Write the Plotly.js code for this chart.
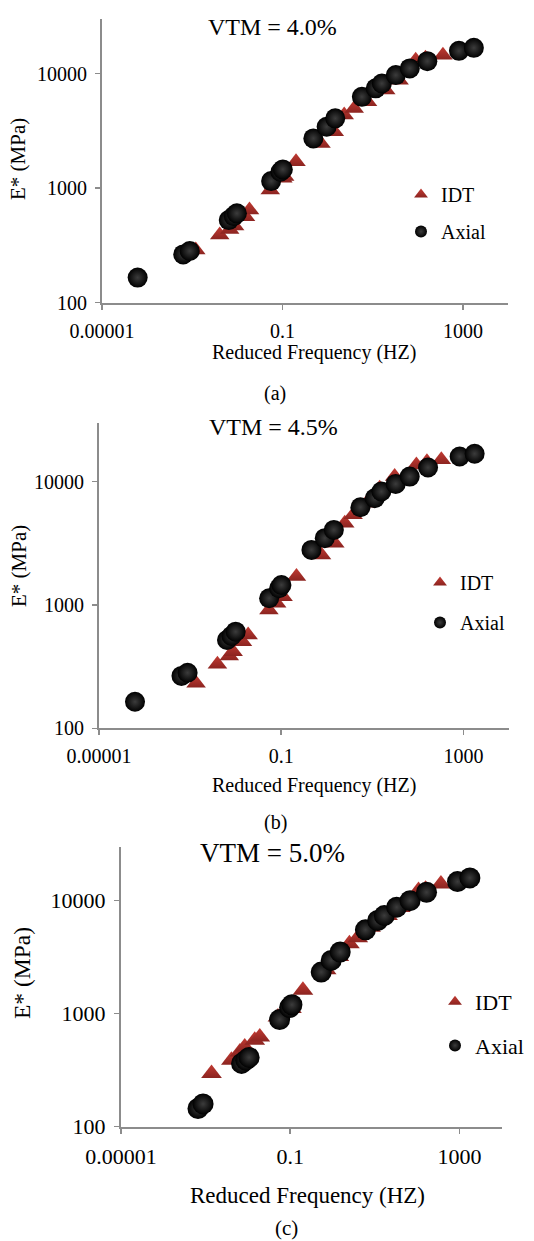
<!DOCTYPE html>
<html><head><meta charset="utf-8">
<script src="https://cdn.plot.ly/plotly-3.0.1.min.js"></script>
<style>html,body{margin:0;padding:0;background:#fff}</style>
</head><body><div id="chart" style="width:534px;height:1241px"></div>
<script>
const FONT = '"Liberation Serif", "Times New Roman", Times, serif';
const panelTitles = ['VTM = 4.0%', 'VTM = 4.5%', 'VTM = 5.0%'];
const captions = ['(a)', '(b)', '(c)'];
const xAxisTitle = 'Reduced Frequency (HZ)';
const yAxisTitle = 'E* (MPa)';
const seriesNames = ['IDT', 'Axial'];
const xTickVals = [0.00001, 0.1, 1000];
const xTickText = ['0.00001', '0.1', '1000'];
const yTickVals = [100, 1000, 10000];
const yTickText = ['100', '1000', '10000'];

// Panel (a) VTM = 4.0%
const idtA_freq = [1.20e-3, 4.07e-3, 6.76e-3, 8.71e-3, 0.0152, 0.0186, 0.0537, 0.102, 0.112, 0.200, 0.716, 1.41, 2.34, 3.90, 7.69, 19.5, 38.5, 89.9, 148, 361];
const idtA_mod  = [287, 388, 435, 466, 561, 643, 962, 1217, 1260, 1700, 2455, 3100, 4345, 4965, 5680, 7180, 8770, 13100, 13600, 14500];
const axialA_freq = [6.17e-5, 6.31e-4, 8.81e-4, 6.46e-3, 8.32e-3, 9.77e-3, 0.0562, 0.0904, 0.102, 0.484, 0.953, 1.48, 5.77, 11.7, 16.0, 32.6, 66.4, 163, 817, 1750];
const axialA_mod  = [165, 263, 282, 525, 569, 601, 1150, 1387, 1455, 2716, 3430, 4065, 6270, 7430, 8200, 9700, 11100, 12850, 15800, 16800];

// Panel (b) VTM = 4.5%
const idtB_freq = [1.35e-3, 3.98e-3, 7.24e-3, 8.81e-3, 0.0141, 0.0188, 0.0537, 0.0794, 0.110, 0.216, 0.766, 1.50, 2.48, 3.78, 7.41, 14.5, 30.9, 92.7, 158, 327];
const idtB_mod  = [232, 330, 385, 418, 504, 571, 910, 1033, 1166, 1700, 2540, 3163, 4600, 5370, 6680, 8830, 10970, 13650, 14500, 15000];
const axialB_freq = [6.17e-5, 6.46e-4, 8.81e-4, 6.46e-3, 8.13e-3, 0.0100, 0.0543, 0.0899, 0.101, 0.461, 0.904, 1.43, 5.48, 11.3, 15.8, 32.6, 66.1, 167, 826, 1760];
const axialB_mod  = [164, 266, 282, 520, 561, 607, 1132, 1365, 1452, 2792, 3475, 4056, 6195, 7330, 8300, 9570, 10970, 13000, 15970, 16800];

// Panel (c) VTM = 5.0%
const idtC_freq = [1.38e-3, 4.07e-3, 6.46e-3, 8.41e-3, 0.0145, 0.0191, 0.0513, 0.107, 0.200, 0.708, 1.41, 2.51, 3.95, 7.94, 20.0, 39.8, 108, 158, 366];
const idtC_mod  = [296, 388, 459, 508, 582, 622, 935, 1110, 1610, 2450, 3200, 4160, 4700, 5800, 7400, 8700, 12280, 12600, 14060];
const axialC_freq = [6.61e-4, 8.71e-4, 7.08e-3, 8.91e-3, 0.0107, 0.0562, 0.0968, 0.110, 0.541, 0.931, 1.52, 6.00, 11.7, 16.8, 32.9, 68.1, 167, 902, 1770];
const axialC_mod  = [145, 159, 363, 388, 410, 887, 1133, 1200, 2334, 2960, 3510, 5520, 6670, 7380, 8750, 10000, 11860, 14750, 15890];

const panels = [
  {idt: [idtA_freq, idtA_mod], ax: [axialA_freq, axialA_mod], xs: 'x',  ys: 'y',  leg: 'legend',  tri: 17, ball: 20},
  {idt: [idtB_freq, idtB_mod], ax: [axialB_freq, axialB_mod], xs: 'x2', ys: 'y2', leg: 'legend2', tri: 17, ball: 20},
  {idt: [idtC_freq, idtC_mod], ax: [axialC_freq, axialC_mod], xs: 'x3', ys: 'y3', leg: 'legend3', tri: 18, ball: 21}
];

const data = [];
panels.forEach(p => {
  data.push({
    type: 'scatter', mode: 'markers', name: seriesNames[0],
    x: p.idt[0], y: p.idt[1], xaxis: p.xs, yaxis: p.ys, legend: p.leg, legendgroup: p.leg + 'i',
    marker: {symbol: 'triangle-up', size: p.tri, color: '#c23b33',
             gradient: {type: 'vertical', color: '#8c2420'}, line: {width: 0}}
  });
  data.push({
    type: 'scatter', mode: 'markers', name: seriesNames[1],
    x: p.ax[0], y: p.ax[1], xaxis: p.xs, yaxis: p.ys, legend: p.leg, legendgroup: p.leg + 'a',
    marker: {symbol: 'circle', size: p.ball, color: '#000000',
             gradient: {type: 'radial', color: '#3c3c3c'}, line: {width: 0}}
  });
});

function xAx(domain, anchor, fs) {
  return {domain: domain, anchor: anchor, type: 'log', range: [-5, 4],
    tickvals: xTickVals, ticktext: xTickText, ticks: 'outside', ticklen: 5, tickwidth: 1.5,
    tickcolor: '#8c8c8c', showline: true, linecolor: '#8c8c8c', linewidth: 2,
    showgrid: false, zeroline: false, mirror: false, ticklabelstandoff: 4,
    tickfont: {family: FONT, size: fs, color: '#000'}};
}
function yAx(domain, anchor, fs) {
  return {domain: domain, anchor: anchor, type: 'log', range: [2, Math.log10(30000)],
    tickvals: yTickVals, ticktext: yTickText, ticks: 'outside', ticklen: 5, tickwidth: 1.5,
    tickcolor: '#8c8c8c', showline: true, linecolor: '#8c8c8c', linewidth: 2,
    showgrid: false, zeroline: false, mirror: false, ticklabelstandoff: 4,
    tickfont: {family: FONT, size: fs, color: '#000'}};
}
function leg(x, y, fs, gap) {
  return {x: x, y: y, xanchor: 'left', yanchor: 'top', bgcolor: 'rgba(0,0,0,0)',
    font: {family: FONT, size: fs, color: '#000'}, itemsizing: 'constant',
    traceorder: 'grouped', tracegroupgap: gap, itemwidth: 30};
}
function ann(text, x, y, fs, angle) {
  return {text: text, x: x, y: y, xref: 'paper', yref: 'paper', showarrow: false,
    xanchor: 'center', yanchor: 'middle', textangle: angle || 0,
    font: {family: FONT, size: fs, color: '#000'}};
}
const W = 534, H = 1241;
const px = v => v / W, py = v => 1 - v / H;

const layout = {
  width: W, height: H, margin: {l: 0, r: 0, t: 0, b: 0},
  paper_bgcolor: '#fff', plot_bgcolor: 'rgba(0,0,0,0)', showlegend: true,
  font: {family: FONT, color: '#000'},
  xaxis:  xAx([px(102), px(508)], 'y', 20),
  yaxis:  yAx([py(302.5), py(19)], 'x', 20),
  xaxis2: xAx([px(99), px(509)], 'y2', 20),
  yaxis2: yAx([py(728.3), py(422.7)], 'x2', 20),
  xaxis3: xAx([px(121), px(501.7)], 'y3', 22),
  yaxis3: yAx([py(1126.7), py(846.7)], 'x3', 22),
  legend:  leg(px(401), py(175), 20, 8),
  legend2: leg(px(420), py(563), 20, 11),
  legend3: leg(px(435), py(981), 22, 12),
  annotations: [
    ann(panelTitles[0], px(272), py(27), 24),
    ann(panelTitles[1], px(273), py(427), 24),
    ann(panelTitles[2], px(272.5), py(853), 27),
    ann(xAxisTitle, px(314), py(352), 20),
    ann(xAxisTitle, px(314), py(785), 20),
    ann(xAxisTitle, px(307), py(1195), 23),
    ann(yAxisTitle, px(18), py(159), 21, -90),
    ann(yAxisTitle, px(19), py(566), 21, -90),
    ann(yAxisTitle, px(22), py(973), 23.5, -90),
    ann(captions[0], px(275), py(394), 20),
    ann(captions[1], px(275), py(822), 20),
    ann(captions[2], px(286), py(1228), 21)
  ]
};
Plotly.newPlot('chart', data, layout, {displayModeBar: false, staticPlot: true});
</script>
</body></html>
